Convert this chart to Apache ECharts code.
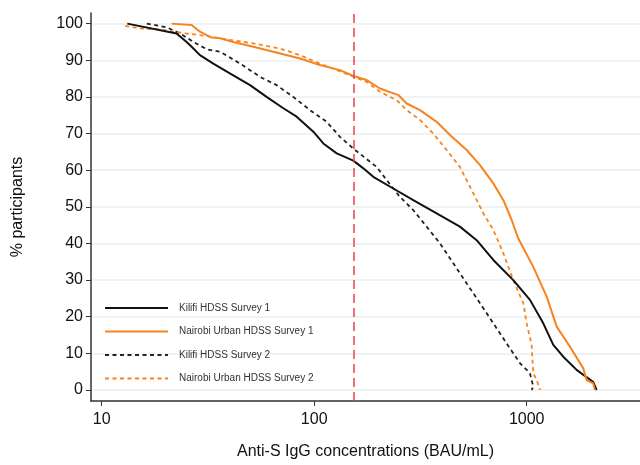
<!DOCTYPE html>
<html>
<head>
<meta charset="utf-8">
<script src="https://cdn.jsdelivr.net/npm/echarts@6/dist/echarts.min.js"></script>
<style>
html,body{margin:0;padding:0;background:#fff;}
#chart{width:640px;height:465px;}
</style>
</head>
<body>
<div id="chart"></div>
<script>
// ---- Data (BAU/mL vs % participants) ----
const seriesNames = ['Kilifi HDSS Survey 1','Nairobi Urban HDSS Survey 1','Kilifi HDSS Survey 2','Nairobi Urban HDSS Survey 2'];

const kilifi1X = [13.2,22.5,25.1,26.5,29.0,33.5,41.6,49.9,59.7,71.6,82.7,99.1,110.4,127.6,152.8,170.3,189.7,235.6,292.6,376.8,485,581.4,696.6,865,1036,1197,1334,1486,1718,1914,2056,2133];
const kilifi1Y = [100,97.3,95.0,93.7,91.4,89.1,85.9,83.2,80.0,76.9,74.6,70.5,67.3,64.6,62.6,60.5,58.2,55.0,51.8,48.2,44.6,40.9,35.5,30.0,24.6,18.2,12.3,9.1,5.5,3.5,2.2,0];

const nairobi1X = [21.3,26.5,29.0,32.9,36.1,41.6,51.7,64.2,85.7,106.4,132.2,152.8,176.6,204,248.9,272.6,314.8,377,435.5,522,603,696.6,776.6,850,912,1074,1242,1384,1599,1846,1914,2056,2094];
const nairobi1Y = [100,99.6,97.8,96.2,96.0,95.0,93.7,92.3,90.5,88.7,87.3,85.7,84.6,82.3,80.5,78.2,76.4,73.2,69.6,65.5,61.4,56.4,51.8,46.4,41.4,33.6,25.5,17.3,11.8,5.9,2.7,1.8,0];

const kilifi2X = [16.3,20.2,23.4,27.0,31.2,36.1,44.8,55.5,66.6,79.7,95.5,114.5,132.2,152.8,183,196.8,219.3,253.4,292.6,338,391,451.5,522,603,696.6,805,930,1036,1074,1055];
const kilifi2Y = [100,99.0,97.3,95.0,93.0,92.3,89.1,85.5,83.2,80.0,76.4,73.2,69.1,65.9,62.3,60.9,57.3,52.7,49.1,44.6,40.0,34.6,29.1,23.7,18.2,12.7,7.3,4.6,0.9,0];

const nairobi2X = [12.9,15.1,18.8,25.1,31.2,38.7,51.7,69.0,85.7,106.4,152.8,176.6,204,244.3,272.6,314.8,363.4,420.3,485,560.6,625.2,696.6,776.6,865,964,1000,1055,1074,1114,1157];
const nairobi2Y = [99.4,98.7,98.4,97.3,96.6,95.7,94.6,93.2,91.4,89.1,85.5,84.1,81.4,79.1,76.4,73.7,70.0,65.5,60.9,53.7,48.2,43.7,37.3,30.0,23.7,18.2,12.3,4.6,2.7,0];

const thresholdX = 154;
const xTickValues = [10,100,1000];
const yTickValues = [0,10,20,30,40,50,60,70,80,90,100];

// ---- Chart ----
const zip = (xs, ys) => xs.map((x, i) => [x, ys[i]]);
const BLACK = '#111111';
const ORANGE = '#f7841e';
const FONT = 'Arial, Liberation Sans, sans-serif';

const chart = echarts.init(document.getElementById('chart'), null, {renderer: 'canvas'});
const option = {
  animation: false,
  backgroundColor: '#ffffff',
  grid: {left: 91, right: 0, top: 13, bottom: 64, containLabel: false},
  legend: {
    orient: 'vertical',
    left: 99,
    top: 297.5,
    padding: 5,
    itemWidth: 63,
    itemHeight: 14,
    itemGap: 12.3,
    itemStyle: {opacity: 0},
    textStyle: {fontFamily: FONT, fontSize: 10, color: '#333', padding: [0,0,0,6]},
    data: seriesNames
  },
  xAxis: {
    type: 'log',
    logBase: 10,
    min: 8.905,
    max: 3414,
    name: 'Anti-S IgG concentrations (BAU/mL)',
    nameLocation: 'middle',
    nameGap: 43,
    nameTextStyle: {fontFamily: FONT, fontSize: 16, color: '#111'},
    axisLine: {show: true, onZero: false, lineStyle: {color: '#333', width: 1.5}},
    axisTick: {show: true, length: 5, customValues: xTickValues, lineStyle: {color: '#333', width: 1}},
    axisLabel: {customValues: xTickValues, margin: 11, fontFamily: FONT, fontSize: 16, color: '#111', formatter: v => String(Math.round(v))},
    splitLine: {show: false},
    minorTick: {show: false},
    minorSplitLine: {show: false}
  },
  yAxis: {
    type: 'value',
    min: -3,
    max: 102.9,
    name: '% participants',
    nameLocation: 'middle',
    nameGap: 65,
    nameRotate: 90,
    nameTextStyle: {fontFamily: FONT, fontSize: 16, color: '#111'},
    axisLine: {show: true, lineStyle: {color: '#333', width: 1.5}},
    axisTick: {show: true, length: 5, customValues: yTickValues, lineStyle: {color: '#333', width: 1}},
    axisLabel: {customValues: yTickValues, margin: 8, fontFamily: FONT, fontSize: 16, color: '#111'},
    splitLine: {show: true, lineStyle: {color: '#e9f1f3', width: 1.5}}
  },
  series: [
    {
      name: seriesNames[0], type: 'line', symbol: 'none', data: zip(kilifi1X, kilifi1Y),
      lineStyle: {color: BLACK, width: 2}, itemStyle: {color: BLACK}, z: 4,
      markLine: {
        silent: true, symbol: 'none', label: {show: false},
        lineStyle: {color: '#e8434d', type: [9, 5], width: 1.5},
        data: [{xAxis: thresholdX}]
      }
    },
    {
      name: seriesNames[1], type: 'line', symbol: 'none', data: zip(nairobi1X, nairobi1Y),
      lineStyle: {color: ORANGE, width: 2}, itemStyle: {color: ORANGE}, z: 4
    },
    {
      name: seriesNames[2], type: 'line', symbol: 'none', data: zip(kilifi2X, kilifi2Y),
      lineStyle: {color: '#222', width: 1.8, type: [4, 3.5]}, itemStyle: {color: '#222'}, z: 3
    },
    {
      name: seriesNames[3], type: 'line', symbol: 'none', data: zip(nairobi2X, nairobi2Y),
      lineStyle: {color: ORANGE, width: 1.8, type: [4, 3.5]}, itemStyle: {color: ORANGE}, z: 3
    }
  ]
};
chart.setOption(option);
</script>
</body>
</html>
